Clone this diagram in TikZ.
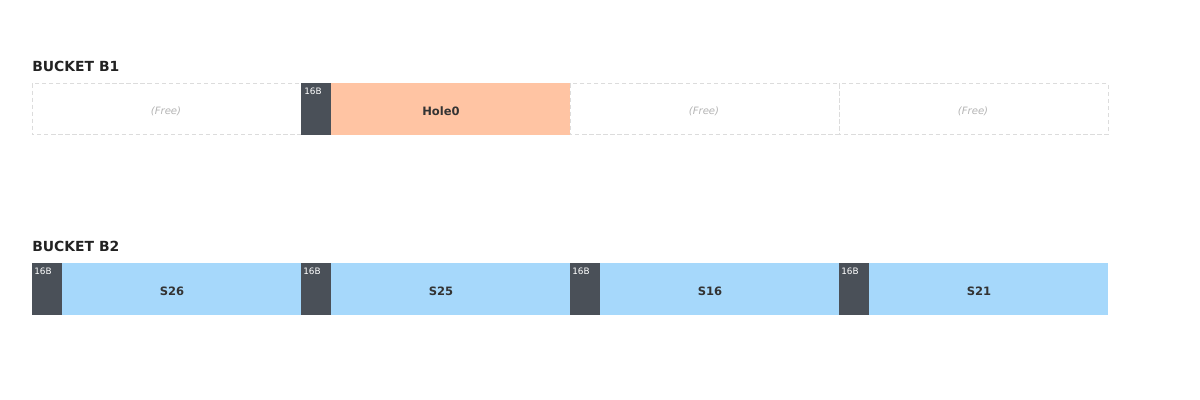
\documentclass[tikz,border=0pt]{standalone}
\usepackage{fontspec}
\setmainfont{DejaVu Sans}
\usepackage{tikz}
\usetikzlibrary{positioning}
\definecolor{hdrgray}{HTML}{4A5058}
\definecolor{holeorange}{HTML}{FFC4A3}
\definecolor{slotblue}{HTML}{A6D8FB}
\definecolor{freeline}{HTML}{DCDCDC}
\definecolor{freetext}{HTML}{B4B4B4}
\definecolor{titletext}{HTML}{222222}
\definecolor{labeltext}{HTML}{333333}

\begin{document}
\begin{tikzpicture}[x=0.025cm,y=-0.025cm,
    buckettitle/.style={anchor=west,inner sep=0pt,font=\bfseries\fontsize{9.9}{11}\selectfont,text=titletext},
    hdrtext/.style={anchor=north west,inner sep=0pt,font=\fontsize{6.3}{7}\selectfont,text=white},
    slottext/.style={inner sep=0pt,font=\bfseries\fontsize{8.2}{10}\selectfont,text=labeltext},
    freelabel/.style={inner sep=0pt,font=\itshape\fontsize{7.2}{8}\selectfont,text=freetext}]
%      \draw[style=help lines] (0,0) grid (1200,400);
      \useasboundingbox (0,0) rectangle (1200,400);
      % bucket B1
      \node[buckettitle] (titleB1) at (32,66) {BUCKET B1};
      \foreach \xpos in {32,570,839}
        \draw[freeline,line width=0.7pt,dash pattern=on 3pt off 2pt] (\xpos,83.5) rectangle +(269,51);
      \fill[holeorange] (331,83) rectangle (570,135);
      \fill[hdrgray] (301,83) rectangle (331,135);
      \node[hdrtext] (hdrB1) at (304,88) {16B};
      \node[slottext] (hole0) at (441,111) {Hole0};
      \node[freelabel] (freeA) at (166,111) {(Free)};
      \node[freelabel] (freeB) at (704,111) {(Free)};
      \node[freelabel] (freeC) at (973,111) {(Free)};
      % bucket B2
      \node[buckettitle] (titleB2) at (32,246) {BUCKET B2};
      \foreach \xpos/\name/\lbl in {32/sA/S26,301/sB/S25,570/sC/S16,839/sD/S21} {
        \fill[slotblue] (\xpos,263) rectangle +(269,52);
        \fill[hdrgray] (\xpos,263) rectangle +(29.5,52);
        \node[hdrtext] (hdr\name) at ([shift={(2,5)}]\xpos,263) {16B};
        \node[slottext] (\name) at ([shift={(140,28)}]\xpos,263) {\lbl};
      }
\end{tikzpicture}
\end{document}
